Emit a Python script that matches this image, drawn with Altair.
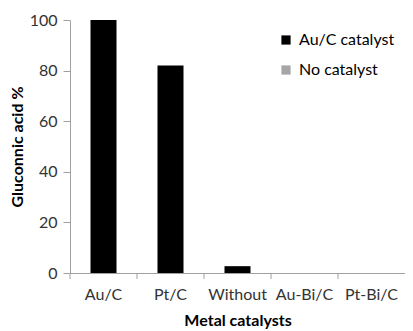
import altair as alt
import pandas as pd

categories = ["Au/C", "Pt/C", "Without", "Au-Bi/C", "Pt-Bi/C"]
values = [100, 82, 2.7, 0, 0]
series_names = ["Au/C catalyst", "No catalyst"]
series_colors = ["#000000", "#a6a6a6"]
y_ticks = [0, 20, 40, 60, 80, 100]

df = pd.DataFrame({"cat": categories, "val": values, "series": series_names[0]})
tick_df = pd.DataFrame({"cat": categories})

FONT = "Lato"
xscale = alt.Scale(domain=categories, paddingInner=0, paddingOuter=0)
xaxis = alt.Axis(
    title="Metal catalysts", labelAngle=0, ticks=False,
    domainColor="#a0a0a0", labelFont=FONT, labelFontSize=16,
    labelColor="#333333", labelPadding=13,
    titleFont=FONT, titleFontSize=16, titleFontWeight="bold",
    titleColor="#000000", titlePadding=10,
)

bars = alt.Chart(df).mark_bar(size=26).encode(
    x=alt.X("cat:N", scale=xscale, sort=categories, axis=xaxis),
    y=alt.Y(
        "val:Q", scale=alt.Scale(domain=[0, 100], nice=False),
        axis=alt.Axis(
            values=y_ticks, grid=False, title="Gluconnic acid %",
            domainColor="#a0a0a0", tickColor="#a0a0a0", tickSize=7,
            labelPadding=6, labelFont=FONT, labelFontSize=16,
            labelColor="#333333", titleFont=FONT, titleFontSize=16,
            titleFontWeight="bold", titleColor="#000000", titlePadding=4,
        ),
    ),
    color=alt.Color(
        "series:N",
        scale=alt.Scale(domain=series_names, range=series_colors),
        legend=alt.Legend(
            title=None, orient="none", legendX=208, legendY=12,
            symbolType="square", symbolSize=85, symbolStrokeWidth=0,
            labelFont=FONT, labelFontSize=16, labelColor="#000000",
            labelOffset=5, rowPadding=14, padding=0,
        ),
    ),
)

ticks = alt.Chart(tick_df).mark_rule(color="#a0a0a0").encode(
    x=alt.X("cat:N", bandPosition=0, scale=xscale, sort=categories, axis=xaxis),
    y=alt.value(253),
    y2=alt.value(259),
)

chart = alt.layer(bars, ticks).properties(
    width=335, height=253,
    padding={"left": 62, "top": 12, "right": 0, "bottom": 56},
    autosize="none",
    background="white",
).configure_view(stroke=None)

chart.save("out.html", embed_options={"renderer": "svg", "actions": False})
